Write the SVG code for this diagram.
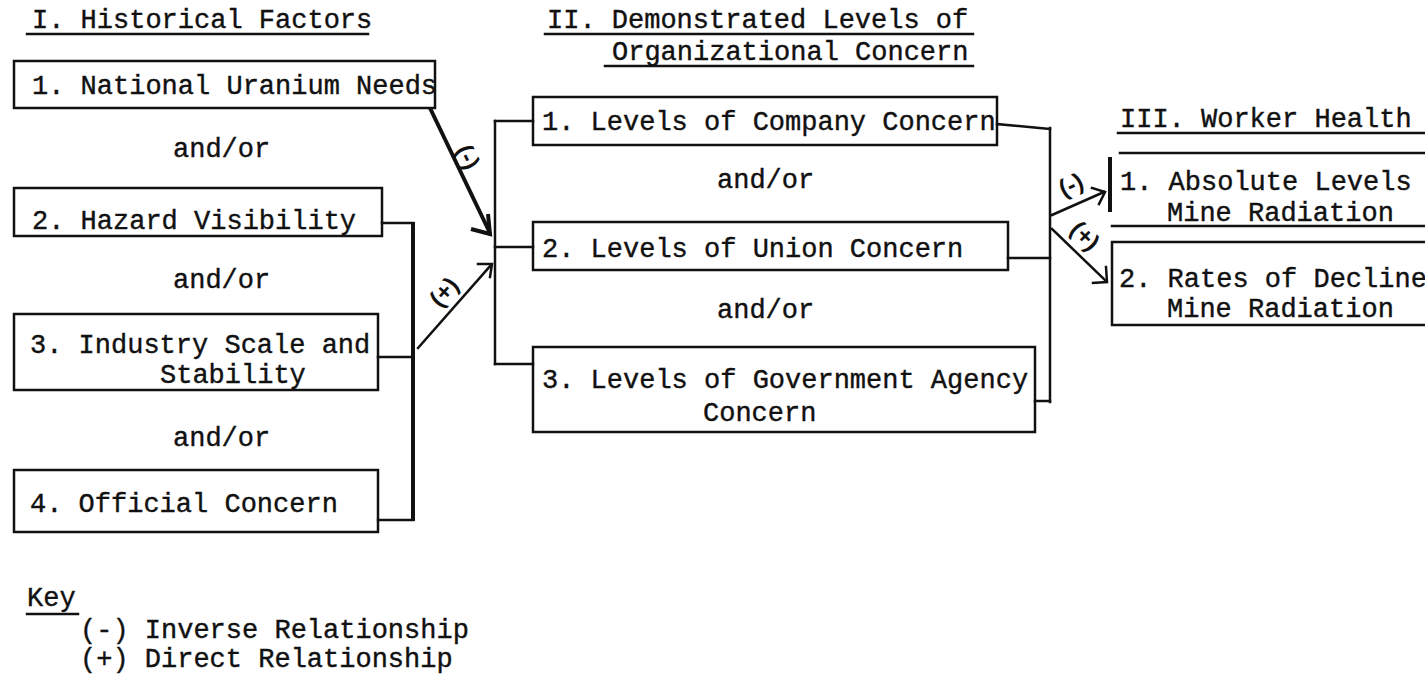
<svg xmlns="http://www.w3.org/2000/svg" width="1425" height="681" viewBox="0 0 1425 681">
  <style>
    .t { font-family: "Liberation Mono", "DejaVu Sans Mono", monospace; font-size: 27px; fill: #111; stroke: #111; stroke-width: 0.4px; }
    .box { fill: none; stroke: #111; stroke-width: 2.5; }
    .ln { fill: none; stroke: #111; stroke-width: 2.5; stroke-linecap: square; }
    .thick { fill: none; stroke: #111; stroke-width: 4; }
    .hand { font-family: "Liberation Sans", "DejaVu Sans", sans-serif; font-size: 24px; font-weight: bold; fill: #111; }
  </style>

  <!-- column headings -->
  <g id="heading-1">
    <text class="t" x="32" y="28">I. Historical Factors</text>
    <line class="ln" x1="27" y1="34" x2="368" y2="34"/>
  </g>
  <g id="heading-2">
    <text class="t" x="547" y="28">II. Demonstrated Levels of</text>
    <line class="ln" x1="545" y1="34" x2="973" y2="34"/>
    <text class="t" x="612" y="60">Organizational Concern</text>
    <line class="ln" x1="605" y1="66" x2="973" y2="66"/>
  </g>
  <g id="heading-3">
    <text class="t" x="1120" y="127">III. Worker Health</text>
    <line class="ln" x1="1118" y1="133" x2="1425" y2="133"/>
  </g>

  <!-- I. historical factors -->
  <g id="national-uranium-needs">
    <rect class="box" x="14" y="61" width="421" height="47"/>
    <text class="t" x="32" y="94">1. National Uranium Needs</text>
  </g>
  <text class="t" x="173" y="157">and/or</text>
  <g id="hazard-visibility">
    <rect class="box" x="14" y="188" width="368" height="48"/>
    <text class="t" x="32" y="229">2. Hazard Visibility</text>
  </g>
  <text class="t" x="173" y="288">and/or</text>
  <g id="industry-scale">
    <rect class="box" x="14" y="314" width="364" height="76"/>
    <text class="t" x="30" y="353">3. Industry Scale and</text>
    <text class="t" x="160" y="383">Stability</text>
  </g>
  <text class="t" x="173" y="446">and/or</text>
  <g id="official-concern">
    <rect class="box" x="14" y="470" width="364" height="62"/>
    <text class="t" x="30" y="512">4. Official Concern</text>
  </g>

  <!-- II. organizational concern -->
  <g id="company-concern">
    <rect class="box" x="533" y="97" width="464" height="48"/>
    <text class="t" x="542" y="130">1. Levels of Company Concern</text>
  </g>
  <text class="t" x="717" y="188">and/or</text>
  <g id="union-concern">
    <rect class="box" x="533" y="222" width="475" height="48"/>
    <text class="t" x="542" y="257">2. Levels of Union Concern</text>
  </g>
  <text class="t" x="717" y="318">and/or</text>
  <g id="government-concern">
    <rect class="box" x="533" y="347" width="502" height="85"/>
    <text class="t" x="542" y="388">3. Levels of Government Agency</text>
    <text class="t" x="703" y="421">Concern</text>
  </g>

  <!-- III. worker health -->
  <g id="absolute-levels">
    <line class="thick" x1="1110" y1="157" x2="1110" y2="212"/>
    <line class="ln" x1="1120" y1="153" x2="1425" y2="153"/>
    <line class="ln" x1="1112" y1="226" x2="1425" y2="226"/>
    <text class="t" x="1120" y="190">1. Absolute Levels</text>
    <text class="t" x="1167" y="221">Mine Radiation</text>
  </g>
  <g id="rates-of-decline">
    <path class="box" d="M1425 242 H1112 V325 H1425"/>
    <text class="t" x="1119" y="287">2. Rates of Decline</text>
    <text class="t" x="1167" y="317">Mine Radiation</text>
  </g>

  <!-- connectors -->
  <g id="connectors">
    <!-- bracket joining factors 2-4 -->
    <path class="ln" d="M382 223 H413 M378 357 H413 M378 520 H413"/>
    <line class="thick" x1="413" y1="222" x2="413" y2="521"/>
    <!-- inverse link from factor 1 -->
    <line class="thick" x1="430" y1="108" x2="489" y2="231" stroke-width="3.5"/>
    <polyline class="thick" points="471,229 490,234 488,214" stroke-width="3.5"/>
    <text class="hand" transform="translate(468 157) rotate(64)" text-anchor="middle" dy="8">(-)</text>
    <!-- direct link from factors 2-4 -->
    <line class="ln" x1="418" y1="348" x2="491" y2="265"/>
    <polyline class="ln" points="478,264 492,264 490,277"/>
    <text class="hand" transform="translate(444 292) rotate(-48)" text-anchor="middle" dy="8">(+)</text>
    <!-- bracket feeding organizational boxes -->
    <line class="ln" x1="495" y1="121" x2="495" y2="364"/>
    <path class="ln" d="M495 121 H533 M495 247 H533 M495 364 H533"/>
    <!-- bracket collecting organizational boxes -->
    <line class="ln" x1="1050" y1="128" x2="1050" y2="402"/>
    <path class="ln" d="M997 124 L1050 129 M1008 258 H1050 M1035 401 H1050"/>
    <!-- links to worker health -->
    <line class="ln" x1="1052" y1="215" x2="1104" y2="192"/>
    <polyline class="ln" points="1092,188 1105,192 1099,204"/>
    <text class="hand" transform="translate(1071 185) rotate(-25)" text-anchor="middle" dy="8">(-)</text>
    <line class="ln" x1="1052" y1="229" x2="1106" y2="281"/>
    <polyline class="ln" points="1106,267 1107,282 1093,283"/>
    <text class="hand" transform="translate(1085 236) rotate(45)" text-anchor="middle" dy="8">(+)</text>
  </g>

  <!-- key -->
  <g id="key">
    <text class="t" x="27" y="606">Key</text>
    <line class="ln" x1="27" y1="614" x2="78" y2="614"/>
    <text class="t" x="80" y="638">(-) Inverse Relationship</text>
    <text class="t" x="80" y="667">(+) Direct Relationship</text>
  </g>
</svg>
